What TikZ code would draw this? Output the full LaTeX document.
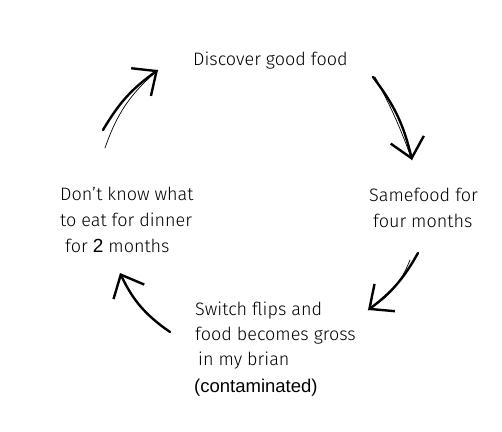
\documentclass[tikz,border=0pt]{standalone}
\usepackage{fontspec}
\setmainfont{Fira Sans Light}
\newfontfamily\altfont{Liberation Sans}
\usetikzlibrary{arrows.meta}
\begin{document}
\begin{tikzpicture}[x=1pt,y=-1pt,
  lbl/.style={anchor=base west,inner sep=0pt,font=\fontsize{18}{20}\selectfont},
  sketch/.style={line width=2.4pt,line cap=round,-{Straight Barb[length=19pt,width=34pt,line width=2.4pt]}},
  faint/.style={line width=0.7pt,line cap=round}]
\useasboundingbox[fill=white] (0,0) rectangle (502,431);
% texts
\node[lbl] (top) at (193,65) {Discover good food};
\node[lbl] (r1) at (369,201) {Samefood for};
\node[lbl] (r2) at (373,227) {four months};
\node[lbl] (l1) at (60,200) {Don't know what};
\node[lbl] (l2) at (60,226) {to eat for dinner};
\node[lbl] (l3) at (65,252) {for {\altfont\fontsize{19}{20}\selectfont 2} months};
\node[lbl] (b1) at (195,315) {Switch flips and};
\node[lbl] (b2) at (195,340) {food becomes gross};
\node[lbl] (b3) at (198,365) {in my brian};
\node[lbl,font=\altfont\fontsize{18.5}{20}\selectfont] (b4) at (194,392) {(contaminated)};
% arrow ends
\coordinate (a1s) at (103,130); \coordinate (a1e) at (158,70);
\coordinate (a2s) at (373,77);  \coordinate (a2e) at (412,160);
\coordinate (a3s) at (418,253); \coordinate (a3e) at (368,310);
\coordinate (a4s) at (170,332); \coordinate (a4e) at (120,273);
\coordinate (a1t) at (105,148);
\coordinate (a2t) at (375,77);
\coordinate (a3t) at (410,260);
% arrows
\draw[sketch] (a1s) to[bend left=12] (a1e);
\draw[faint] (a1t) to[bend left=15] (a1e);
\draw[sketch] (a2s) to[bend left=12] (a2e);
\draw[faint] (a2t) to[bend left=4] (a2e);
\draw[sketch] (a3s) to[bend left=12] (a3e);
\draw[faint] (a3t) to[bend left=18] (a3e);
\draw[sketch] (a4s) to[bend left=15] (a4e);
\end{tikzpicture}
\end{document}
